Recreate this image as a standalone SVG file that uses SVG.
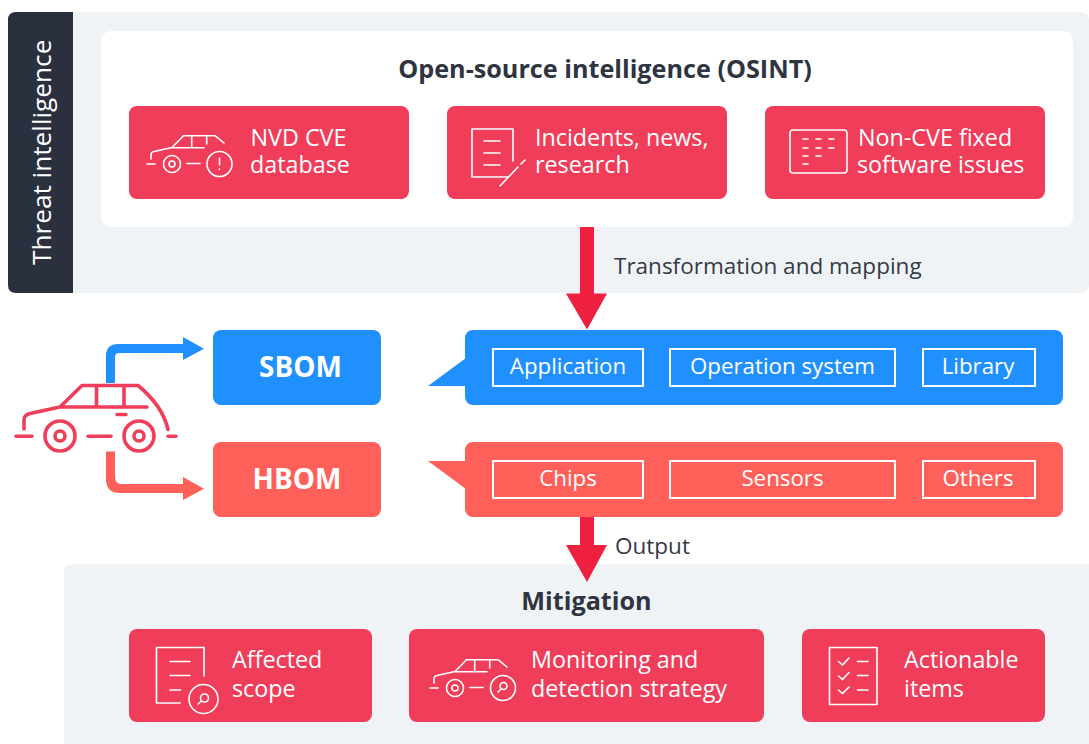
<svg xmlns="http://www.w3.org/2000/svg" width="1089" height="744" viewBox="0 0 1089 744">
<style>
text{font-family:"Open Sans","Noto Sans","Liberation Sans",sans-serif}
.w{fill:#fff;font-size:23.300px}
.d{fill:#343a46;font-size:22.500px}
.h{fill:#2e3440;font-size:25.200px;font-weight:700;text-anchor:middle}
.b{fill:#fff;font-size:28px;font-weight:700;text-anchor:middle}
.c{fill:#fff;font-size:22.300px;text-anchor:middle}
.r{fill:#ef3d5a}
.i{fill:none;stroke:#fff;stroke-width:1.6;stroke-linecap:round;stroke-linejoin:round}
.t{fill:none;stroke:#fff;stroke-width:2}
.car{fill:none;stroke:#f03e5a;stroke-width:3.6;stroke-linecap:round;stroke-linejoin:round}
</style>
<defs>
<g id="minicar" class="i"><path d="M31 59V55Q31 52 34 51.500L52 47.500L63.500 35.700H95L104 43M52 47.700H84M71.700 36V47.700M86.700 36V44M27 64H35"/><circle cx="52" cy="64" r="8.500"/><circle cx="52" cy="64" r="3"/><path d="M67 63.500H80"/></g>
</defs>
<rect id="bg-top" x="8" y="12" width="1081" height="281" rx="8" fill="#eff3f6"/>
<path id="bg-bottom" d="M64 744V572Q64 564 72 564H1089V744Z" fill="#eff3f6"/>
<g id="threat-intelligence"><path d="M73 12V293H16Q8 293 8 285V20Q8 12 16 12Z" fill="#2b303f"/><text transform="translate(51 265) rotate(-90)" fill="#fff" font-size="26.200">Threat intelligence</text></g>
<g id="osint"><rect x="101" y="31" width="972" height="196" rx="10" fill="#fff"/><text class="h" x="605" y="78">Open-source intelligence (OSINT)</text></g>
<g id="connectors">
<path d="M580 227H594V293.500H607L587 329.500L566 293.500H580Z" fill="#ee1f3f"/>
<path d="M580 517H594V545H607L587 582L566 545H580Z" fill="#ee1f3f"/>
<path d="M106 383V356Q106 344 118 344H183V337L204 348.700L183 360V353H119Q115 353 115 357V383Z" fill="#2090ff"/>
<path d="M106 451.500H115V476Q115 484 121 484H183V477L204 488.700L183 500V493H120Q106 493 106 479Z" fill="#ff6059"/>
</g>
<g id="nvd"><rect class="r" x="129" y="106" width="280" height="93" rx="8"/><use href="#minicar" x="120" y="100"/><circle class="i" cx="219.500" cy="164" r="12.500"/><path class="i" stroke-width="2" d="M219.500 158V165M219.500 169V169.500"/><text class="w" x="250.500" y="146">NVD CVE</text><text class="w" x="250" y="173">database</text></g>
<g id="incidents"><rect class="r" x="447" y="106" width="280" height="93" rx="8"/><path class="i" d="M513 161V129H472V177H508M484 141H500M484 153H500M484 165H500M500 186L518 167M521 164L525 160"/><text class="w" x="535" y="146">Incidents, news,</text><text class="w" x="535" y="173">research</text></g>
<g id="noncve"><rect class="r" x="765" y="106" width="280" height="93" rx="8"/><rect class="i" x="790" y="130" width="57" height="43" rx="3"/><path class="i" d="M803 139H808M816 139H821M829 139H834M803 148H808M816 148H821M829 148H834M803 156H808M816 156H821M803 164H808"/><text class="w" x="858" y="146">Non-CVE fixed</text><text class="w" x="857" y="173">software issues</text></g>
<text class="d" x="614" y="274">Transformation and mapping</text>
<g id="car" class="car"><path d="M24 429V420Q24 415 30 413.500L60 407L82 385.500H138C152 397 164 412 168 429.500M60 407H147M96.500 386V407M124 386V407M117 414.500H126M16 436.300H32M88 436.300H111M168 436.300H176"/><circle cx="60" cy="436" r="15"/><circle cx="60" cy="436" r="5"/><circle cx="139" cy="436" r="15"/><circle cx="139" cy="436" r="5"/></g>
<g id="sbom"><rect x="213" y="330" width="168" height="75" rx="8" fill="#2090ff"/><text class="b" x="300.500" y="377">SBOM</text></g>
<g id="hbom"><rect x="213" y="442" width="168" height="75" rx="8" fill="#ff6059"/><text class="b" x="297" y="489">HBOM</text></g>
<g id="sbom-panel"><path d="M428 386L466 358V386Z" fill="#2090ff"/><rect x="465" y="330" width="598" height="75" rx="8" fill="#2090ff"/>
<rect class="t" x="493" y="349" width="150" height="37"/><text class="c" x="568" y="374">Application</text>
<rect class="t" x="670" y="349" width="225" height="37"/><text class="c" x="782.500" y="374">Operation system</text>
<rect class="t" x="923" y="349" width="112" height="37"/><text class="c" x="978" y="374">Library</text></g>
<g id="hbom-panel"><path d="M428 461L466 489V461Z" fill="#ff6059"/><rect x="465" y="442" width="598" height="75" rx="8" fill="#ff6059"/>
<rect class="t" x="493" y="461" width="150" height="37"/><text class="c" x="568" y="486">Chips</text>
<rect class="t" x="670" y="461" width="225" height="37"/><text class="c" x="782.500" y="486">Sensors</text>
<rect class="t" x="923" y="461" width="112" height="37"/><text class="c" x="978" y="486">Others</text></g>
<text class="d" x="615" y="554">Output</text>
<g id="mitigation"><text class="h" x="586.500" y="610">Mitigation</text></g>
<g id="affected"><rect class="r" x="129" y="629" width="243" height="93" rx="8"/><path class="i" d="M204 676V647.500H156.500V703H180M170 661.500H190M170 675.500H190M170 690H180.500"/><circle class="i" cx="203.500" cy="699" r="14.500"/><circle class="i" cx="204.500" cy="698" r="4"/><path class="i" d="M198 704L201.500 701"/><text class="w" x="232" y="668">Affected</text><text class="w" x="232" y="697">scope</text></g>
<g id="monitoring"><rect class="r" x="409" y="629" width="355" height="93" rx="8"/><use href="#minicar" x="403" y="624"/><circle class="i" cx="503" cy="688" r="12.500"/><circle class="i" cx="503.500" cy="686" r="3.500"/><path class="i" d="M498 692L501 689"/><text class="w" x="531" y="668">Monitoring and</text><text class="w" x="531" y="697">detection strategy</text></g>
<g id="actionable"><rect class="r" x="802" y="629" width="243" height="93" rx="8"/><rect class="i" x="829.500" y="647.500" width="47.500" height="57"/><path class="i" d="M838.500 661.500L842.500 665L849 658M838.500 676L842.500 679.500L849 672.500M838.500 690L842.500 693.500L849 687M857.500 661.500H868M857.500 675.500H868M857.500 690H868"/><text class="w" x="904" y="668">Actionable</text><text class="w" x="904" y="697">items</text></g>
</svg>
